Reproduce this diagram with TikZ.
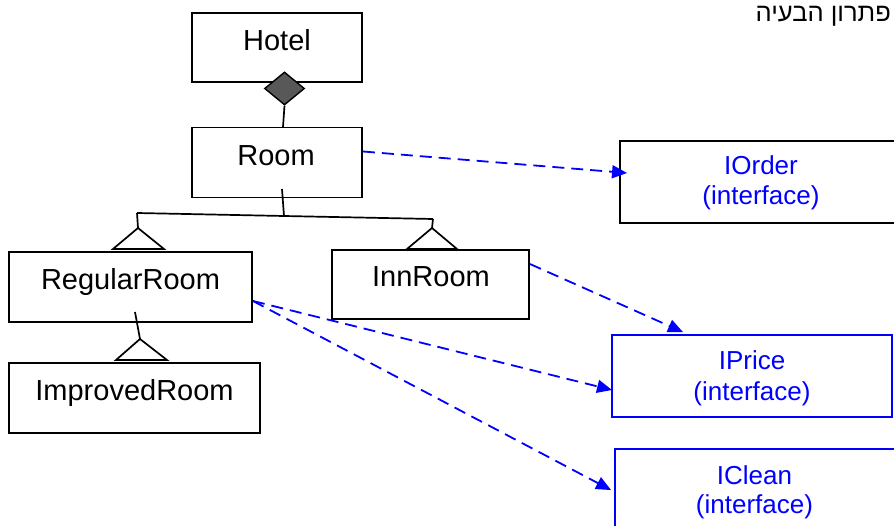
\documentclass[tikz,border=0pt]{standalone}
\usepackage{fontspec}
\setmainfont{Liberation Sans}
\newfontfamily\hebfont[Script=Hebrew]{Liberation Sans}
\TeXXeTstate=1
\usetikzlibrary{arrows.meta,shapes.geometric}
\definecolor{ifblue}{RGB}{0,0,255}
\definecolor{aggfill}{RGB}{88,88,88}

\begin{document}
\begin{tikzpicture}[x=1pt,y=-1pt,
  classbox/.style={draw=black, line width=1.9pt, inner sep=0pt},
  ifacebox/.style={draw=ifblue, line width=1.9pt, inner sep=0pt},
  ifaceframe/.style={draw=black, line width=1.9pt, inner sep=0pt},
  clsname/.style={anchor=base, inner sep=0pt, font=\fontsize{29}{34}\selectfont},
  ifname/.style={anchor=base, inner sep=0pt, text=ifblue, font=\fontsize{26}{30}\selectfont},
  tree/.style={draw=black, line width=1.7pt},
  realize/.style={draw=ifblue, line width=1.8pt, dash pattern=on 12pt off 7pt,
    -{Triangle[length=15pt,width=13pt]}}
]
\useasboundingbox (0,0) rectangle (894,526);

% class boxes
\node[classbox, minimum width=170pt, minimum height=69pt] (hotel) at (277,47.5) {};
\node[clsname] (hotelT) at (277,51) {Hotel};
\node[classbox, minimum width=170pt, minimum height=70pt] (room) at (277,162.5) {};
\node[clsname] (roomT) at (276,166) {Room};
\node[classbox, minimum width=243pt, minimum height=70pt] (regular) at (130.5,287) {};
\node[clsname] (regularT) at (130.5,290) {RegularRoom};
\node[classbox, minimum width=197pt, minimum height=69pt] (inn) at (430.5,284.5) {};
\node[clsname] (innT) at (431,287) {InnRoom};
\node[classbox, minimum width=251pt, minimum height=70pt] (improved) at (134.5,398) {};
\node[clsname] (improvedT) at (134.5,400) {ImprovedRoom};

% interface boxes
\node[ifaceframe, minimum width=290pt, minimum height=82pt] (iorder) at (765,182) {};
\node[ifname] (iorderA) at (761,175) {IOrder};
\node[ifname] (iorderB) at (761,205) {(interface)};
\node[ifacebox, minimum width=280pt, minimum height=82pt] (iprice) at (752,376) {};
\node[ifname] (ipriceA) at (752,370) {IPrice};
\node[ifname] (ipriceB) at (752,400) {(interface)};
\node[ifacebox, minimum width=290pt, minimum height=100pt] (iclean) at (760,499) {};
\node[ifname] (icleanA) at (754.5,484) {IClean};
\node[ifname] (icleanB) at (754.5,513) {(interface)};

% title
\node[anchor=base east, inner sep=0pt, font=\fontsize{25.5}{29}\selectfont] (title) at (891,22)
  {\hebfont\beginR פתרון הבעיה\endR};

% aggregation Hotel - Room
\node[shape=diamond, draw=black, fill=aggfill, line width=1.4pt, inner sep=0pt,
  minimum width=40pt, minimum height=33pt] (agg) at (284.5,88.5) {};
\draw[tree] (agg.south) -- (283,127);

% generalization tree
\coordinate (rootTop) at (282,189);
\coordinate (junc) at (284,216);
\coordinate (lend) at (137,213);
\coordinate (rend) at (433,219);
\coordinate (apexL) at (138,228);
\coordinate (apexR) at (432,228);
\draw[tree] (rootTop) -- (junc);
\draw[tree] (lend) -- (junc) -- (rend);
\draw[tree] (lend) -- (apexL);
\draw[tree] (rend) -- (apexR);
\draw[tree, line join=miter] (apexL) -- (164,249) -- (113,249) -- cycle;
\draw[tree, line join=miter] (apexR) -- (457,249) -- (407,249) -- cycle;

\coordinate (subTop) at (135,312);
\coordinate (apexI) at (140,339);
\draw[tree] (subTop) -- (apexI);
\draw[tree, line join=miter] (apexI) -- (167,360) -- (116,360) -- cycle;

% realizations
\draw[realize] ([yshift=11pt]room.east) -- ([xshift=8pt,yshift=9pt]iorder.west);
\draw[realize] ([yshift=20.5pt]inn.east) -- ([xshift=-69pt,yshift=2pt]iprice.north);
\draw[realize] ([yshift=-14pt]regular.east) -- ([xshift=1pt,yshift=-14pt]iprice.west);
\draw[realize] ([yshift=-14pt]regular.east) -- ([xshift=-3pt,yshift=-42pt]iclean.north west);
\end{tikzpicture}
\end{document}
